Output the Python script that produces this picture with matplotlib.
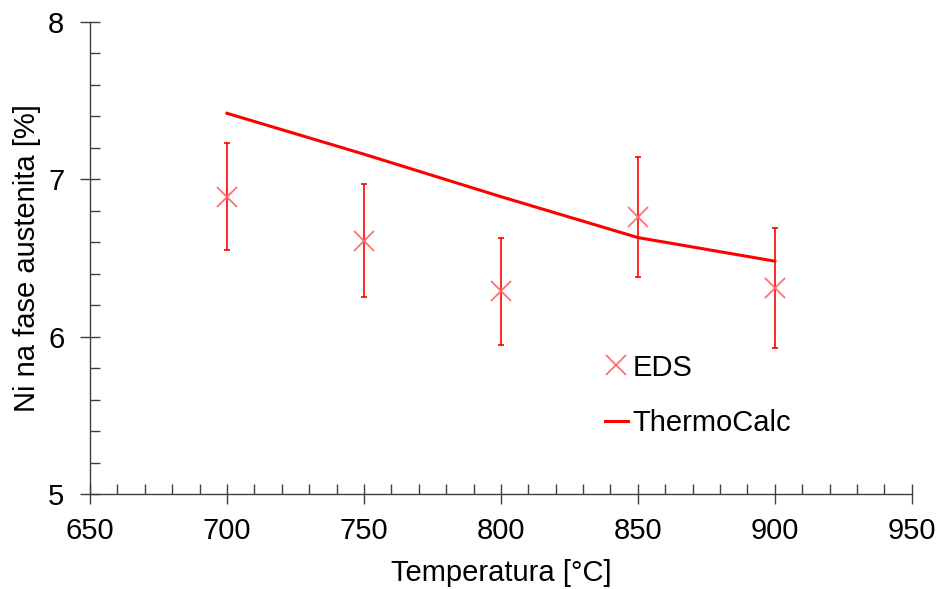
import matplotlib
matplotlib.use("Agg")
import matplotlib.pyplot as plt
from matplotlib.ticker import MultipleLocator
from matplotlib.lines import Line2D

plt.rcParams['font.family'] = ['Liberation Sans', 'DejaVu Sans']

temps = [700, 750, 800, 850, 900]
eds_values = [6.89, 6.61, 6.29, 6.76, 6.31]
eds_errors = [0.34, 0.36, 0.34, 0.38, 0.38]
thermocalc_values = [7.42, 7.16, 6.89, 6.63, 6.48]

fig = plt.figure(figsize=(9.42, 5.89), dpi=100)
ax = fig.add_axes([0.0955, 0.1613, 0.8725, 0.8013])

ax.plot(temps, thermocalc_values, color='#ff0000', lw=2.2, zorder=3)
ax.errorbar(temps, eds_values, yerr=eds_errors, fmt='none', ecolor='#ff0000',
            elinewidth=1.2, capsize=2.5, capthick=1.2, zorder=2)
ax.plot(temps, eds_values, linestyle='none', marker='x', markersize=14,
        markeredgewidth=1.3, color='#ff7070', zorder=4)

ax.set_xlim(650, 950)
ax.set_ylim(5, 8)
ax.xaxis.set_major_locator(MultipleLocator(50))
ax.xaxis.set_minor_locator(MultipleLocator(10))
ax.yaxis.set_major_locator(MultipleLocator(1))
ax.yaxis.set_minor_locator(MultipleLocator(0.2))

for s in ['top', 'right']:
    ax.spines[s].set_visible(False)
for s in ['left', 'bottom']:
    ax.spines[s].set_color('#404040')
    ax.spines[s].set_linewidth(1.0)

ax.tick_params(which='major', direction='inout', length=14, width=1.0,
               color='#404040', labelsize=21)
ax.tick_params(axis='x', which='major', pad=9.5)
ax.tick_params(axis='y', which='major', pad=11.5)
ax.tick_params(which='minor', direction='in', length=7, width=1.0,
               color='#404040')

ax.set_xlabel('Temperatura [°C]', fontsize=21, labelpad=10)
ax.set_ylabel('Ni na fase austenita [%]', fontsize=21, labelpad=5)

handles = [Line2D([], [], linestyle='none', marker='x', markersize=14,
                  markeredgewidth=1.3, color='#ff7070'),
           Line2D([], [], color='#ff0000', lw=2.2)]
ax.legend(handles, ['EDS', 'ThermoCalc'], loc='upper left',
          bbox_to_anchor=(0.612, 0.322), frameon=False, fontsize=21,
          handlelength=0.8, handletextpad=0.15, labelspacing=0.95,
          borderaxespad=0)

fig.savefig('out.png', dpi=100)
